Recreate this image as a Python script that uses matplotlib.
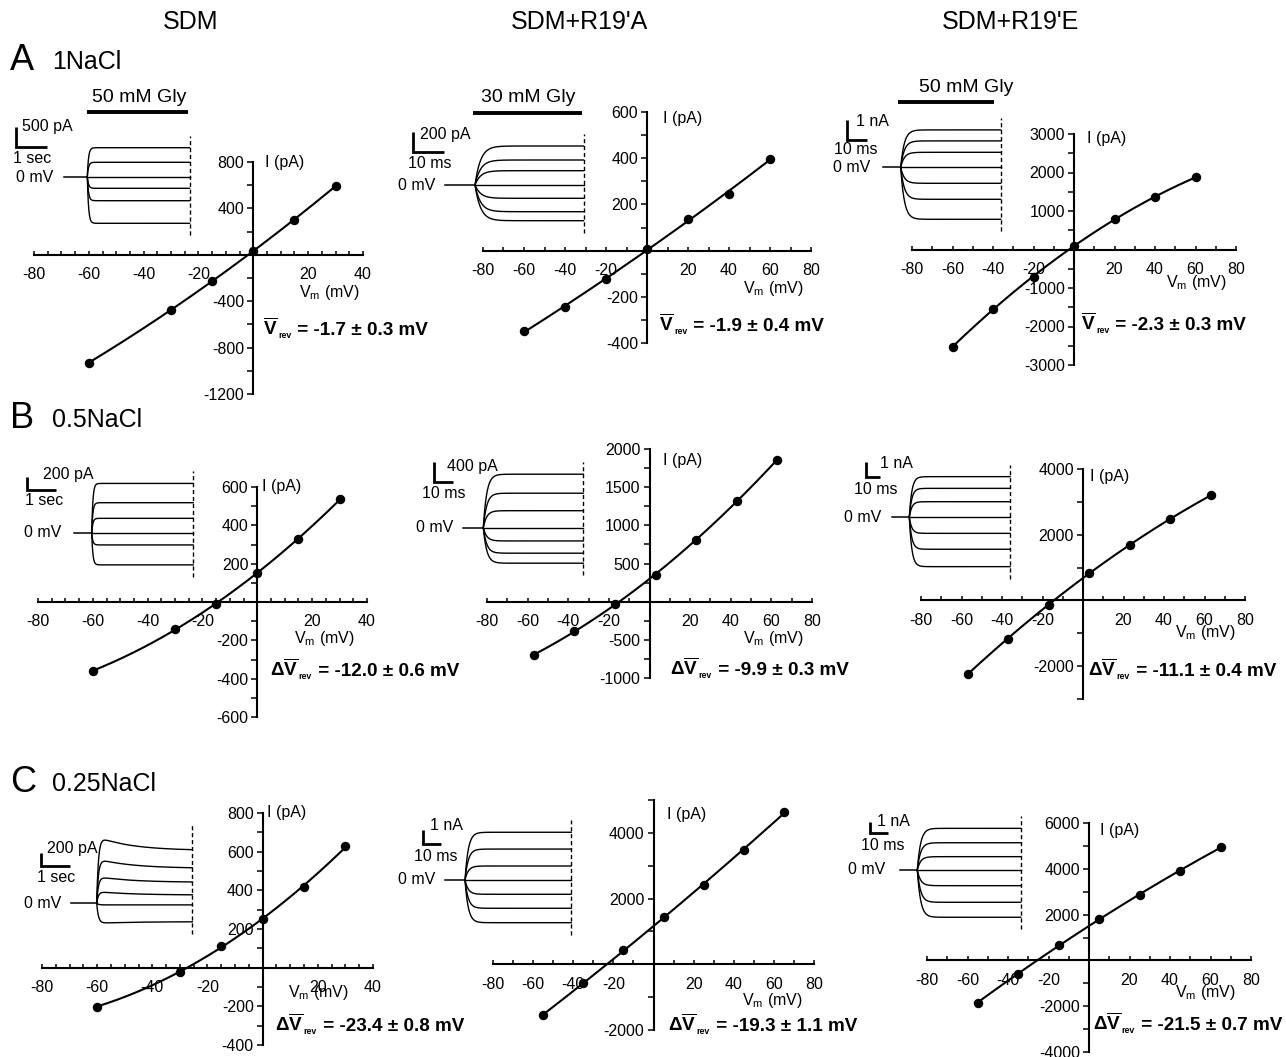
import numpy as np
import matplotlib.pyplot as plt
from matplotlib.ticker import FixedLocator, MultipleLocator, FuncFormatter

plt.rcParams['font.family'] = ['Liberation Sans', 'DejaVu Sans']
plt.rcParams['mathtext.fontset'] = 'custom'
plt.rcParams['mathtext.rm'] = 'Liberation Sans'
plt.rcParams['mathtext.it'] = 'Liberation Sans:italic'
plt.rcParams['mathtext.bf'] = 'Liberation Sans:bold'

W, H, DPI = 1286, 1057, 100

# headings
columns = ["SDM", "SDM+R19'A", "SDM+R19'E"]
row_letters = ["A", "B", "C"]
row_salts = ["1NaCl", "0.5NaCl", "0.25NaCl"]
gly_labels = ["50 mM Gly", "30 mM Gly", "50 mM Gly"]

# I-V relations: membrane potential (mV) and current (pA)
v_a1 = [-60, -30, -15, 0, 15, 30]
i_a1 = [-930, -475, -225, 35, 300, 595]
v_a2 = [-60, -40, -20, 0, 20, 40, 60]
i_a2 = [-350, -245, -122, 5, 137, 247, 397]
v_a3 = [-60, -40, -20, 0, 20, 40, 60]
i_a3 = [-2525, -1550, -720, 100, 800, 1355, 1875]
v_b1 = [-60, -30, -15, 0, 15, 30]
i_b1 = [-360, -140, -8, 150, 330, 535]
v_b2 = [-57, -37, -17, 3, 23, 43, 63]
i_b2 = [-700, -385, -35, 350, 810, 1325, 1860]
v_b3 = [-57, -37, -17, 3, 23, 43, 63]
i_b3 = [-2240, -1165, -130, 830, 1690, 2475, 3195]
v_c1 = [-60, -30, -15, 0, 15, 30]
i_c1 = [-202, -20, 111, 253, 417, 628]
v_c2 = [-55, -35, -15, 5, 25, 45, 65]
i_c2 = [-1545, -575, 440, 1435, 2420, 3465, 4625]
v_c3 = [-55, -35, -15, 5, 25, 45, 65]
i_c3 = [-1840, -590, 660, 1810, 2870, 3900, 4950]

# labelled current ticks of each I-V plot
yt_a1 = [-1200, -800, -400, 400, 800]
yt_a2 = [-400, -200, 200, 400, 600]
yt_a3 = [-3000, -2000, -1000, 1000, 2000, 3000]
yt_b1 = [-600, -400, -200, 200, 400, 600]
yt_b2 = [-1000, -500, 500, 1000, 1500, 2000]
yt_b3 = [-2000, 2000, 4000]
yt_c1 = [-400, -200, 200, 400, 600, 800]
yt_c2 = [-2000, 2000, 4000]
yt_c3 = [-4000, -2000, 2000, 4000, 6000]

# reversal potentials (mean ± s.e.m., mV); rows B and C are shifts
rev_a1 = '-1.7 ± 0.3'
rev_a2 = '-1.9 ± 0.4'
rev_a3 = '-2.3 ± 0.3'
rev_b1 = '-12.0 ± 0.6'
rev_b2 = '-9.9 ± 0.3'
rev_b3 = '-11.1 ± 0.4'
rev_c1 = '-23.4 ± 0.8'
rev_c2 = '-19.3 ± 1.1'
rev_c3 = '-21.5 ± 0.7'

# glycine-evoked current traces (peak and end-of-trace level, in bar units)
tr_a1 = [725, 360, 0, -290, -600, -1165]
tr_a2 = [390, 250, 143, 0, -133, -267, -357]
tr_a3 = [1.87, 1.32, 0.75, 0, -0.80, -1.60, -2.60]
tr_b1 = [750, 460, 225, 0, -175, -475]
tr_b2 = [1070, 690, 340, 0, -265, -510, -710]
tr_b3 = [2.71, 1.93, 1.04, 0, -1.07, -2.13, -3.29]
tr_c1 = [1050, 700, 420, 185, -25, -315]
tr_c1_end = [830, 550, 330, 130, -25, -290]
tr_c2 = [3.41, 2.21, 1.00, 0, -1.02, -2.02, -3.05]
tr_c3 = [3.56, 2.33, 1.14, 0, -1.34, -2.76, -4.04]

# scale bars: (time, time unit, current, current unit)
bar_a1 = (1, 'sec', 500, 'pA')
bar_a2 = (10, 'ms', 200, 'pA')
bar_a3 = (10, 'ms', 1, 'nA')
bar_b1 = (1, 'sec', 200, 'pA')
bar_b2 = (10, 'ms', 400, 'pA')
bar_b3 = (10, 'ms', 1, 'nA')
bar_c1 = (1, 'sec', 200, 'pA')
bar_c2 = (10, 'ms', 1, 'nA')
bar_c3 = (10, 'ms', 1, 'nA')

fig = plt.figure(figsize=(W / DPI, H / DPI), dpi=DPI)
renderer = fig.canvas.get_renderer()

# pixel overlay for free text, scale bars and drug bars
ov = fig.add_axes([0, 0, 1, 1])
ov.set_xlim(0, W)
ov.set_ylim(H, 0)
ov.set_axis_off()

FS = 11.5
REV_FS = 13.6


def rev_label(x, y, value, delta):
    # V-bar with a tiny "rev" subscript, then the value
    head = (r'Δ$\overline{\mathbf{V}}$' if delta else r'$\overline{\mathbf{V}}$')
    base = y + 0.36 * REV_FS * DPI / 72
    t1 = ov.text(x, base, head, fontsize=REV_FS, fontweight='bold',
                 ha='left', va='baseline')
    x1 = t1.get_window_extent(renderer).x1
    t2 = ov.text(x1 + 0.5, base + 3, 'rev', fontsize=6.3, fontweight='bold',
                 ha='left', va='baseline')
    x2 = t2.get_window_extent(renderer).x1
    ov.text(x2 + 1, base, f' = {value} mV', fontsize=REV_FS, fontweight='bold',
            ha='left', va='baseline')


def iv_plot(v, cur, yt, box, xlim, ylim, ystep, xstep, ilab, vlab, rev_xy, rev,
            delta):
    l, r, t, b = box
    ax = fig.add_axes([l / W, 1 - b / H, (r - l) / W, (b - t) / H])
    ax.set_xlim(*xlim)
    ax.set_ylim(*ylim)
    ax.patch.set_visible(False)
    for s in ('top', 'right'):
        ax.spines[s].set_visible(False)
    for s in ('left', 'bottom'):
        ax.spines[s].set_position(('data', 0))
        ax.spines[s].set_linewidth(1.5)
    ax.xaxis.set_major_locator(FixedLocator(np.arange(xlim[0], xlim[1] + 1, 20)))
    ax.xaxis.set_minor_locator(MultipleLocator(xstep))
    ax.yaxis.set_major_locator(FixedLocator(yt))
    ax.yaxis.set_minor_locator(MultipleLocator(ystep))
    fmt = FuncFormatter(lambda val, pos: '' if val == 0 else f'{val:g}')
    ax.xaxis.set_major_formatter(fmt)
    ax.yaxis.set_major_formatter(fmt)
    ax.tick_params(axis='x', which='both', direction='in', length=3, width=1.1,
                   pad=9, labelsize=FS)
    ax.tick_params(axis='y', which='both', direction='out', length=4, width=1.1,
                   pad=2.5, labelsize=FS)

    coef = np.polyfit(v, cur, 2)
    vv = np.linspace(min(v), max(v), 200)
    ax.plot(vv, np.polyval(coef, vv), color='k', lw=1.5, clip_on=False)
    ax.plot(v, cur, 'o', color='k', ms=5.8, clip_on=False)

    ov.text(ilab[0], ilab[1], 'I (pA)', fontsize=FS, ha='left', va='center')
    ov.text(vlab[0], vlab[1], r'V$_{\mathrm{m}}$ (mV)', fontsize=FS,
            ha='center', va='center')
    rev_label(rev_xy[0], rev_xy[1], rev, delta)


def traces(levels, ends, bar, origin, corner, bar_px, pre, dur, tau, tau_d,
           amp_xy, time_xy, zero_xy):
    x0, y0 = origin
    sx = bar_px[0] / bar[0]
    sy = bar_px[1] / bar[2]
    ax = fig.add_axes([0, 0, 1, 1])
    ax.set_axis_off()
    ax.set_xlim(-x0 / sx, (W - x0) / sx)
    ax.set_ylim((y0 - H) / sy, y0 / sy)

    t = np.linspace(0, dur, 400)
    ax.plot([-pre, 0], [0, 0], color='k', lw=1.1)
    for lv, en in zip(levels, ends):
        frac = en / lv if lv else 1.0
        shape = (1 - np.exp(-t / tau)) * (frac + (1 - frac) * np.exp(-t / tau_d))
        ax.plot(t, lv * shape, color='k', lw=1.0)
    margin = 12 / sy
    ax.plot([dur, dur], [min(ends) - margin, max(levels) + margin],
            color='k', lw=1.0, ls=(0, (3, 2)))

    cx, cy = corner
    ov.plot([cx, cx, cx + bar_px[0]], [cy - bar_px[1], cy, cy], color='k',
            lw=2.0, solid_joinstyle='miter', solid_capstyle='butt')
    ov.text(amp_xy[0], amp_xy[1], f'{bar[2]} {bar[3]}', fontsize=FS,
            ha='left', va='center')
    ov.text(time_xy[0], time_xy[1], f'{bar[0]} {bar[1]}', fontsize=FS,
            ha='center', va='center')
    ov.text(zero_xy[0], zero_xy[1], '0 mV', fontsize=FS, ha='right', va='center')


# row A
iv_plot(v_a1, i_a1, yt_a1, (34, 363, 162, 394), (-80, 40), (-1200, 800), 200, 5,
        (265, 162), (329, 292), (263, 328), rev_a1, False)
traces(tr_a1, tr_a1, bar_a1, (87.3, 176.7), (15.5, 146.7), (31, 20), 0.74, 3.3,
       0.04, 1.0, (22, 127), (31.7, 158.3), (53.3, 178))
iv_plot(v_a2, i_a2, yt_a2, (483, 811, 112, 343), (-80, 80), (-400, 600), 100, 10,
        (663, 118), (773, 288), (659, 324), rev_a2, False)
traces(tr_a2, tr_a2, bar_a2, (475, 185), (412.7, 151.7), (31, 20), 9.7, 35,
       1.8, 1.0, (420, 135), (430, 164), (435, 186))
iv_plot(v_a3, i_a3, yt_a3, (912, 1236, 134, 365), (-80, 80), (-3000, 3000), 500, 10,
        (1087, 138), (1196, 282), (1081, 323), rev_a3, False)
traces(tr_a3, tr_a3, bar_a3, (900.7, 167.3), (846.7, 140), (20, 20), 8.8, 50,
       1.8, 1.0, (856, 122), (856, 149), (870, 168))

# row B
iv_plot(v_b1, i_b1, yt_b1, (38, 367, 487, 717), (-80, 40), (-600, 600), 100, 5,
        (262, 487), (324, 638), (270, 669), rev_b1, True)
traces(tr_b1, tr_b1, bar_b1, (91.7, 533.3), (27.3, 490), (29, 13.3), 0.61, 3.5,
       0.04, 1.0, (43.3, 475), (44, 500.7), (61.7, 532.7))
iv_plot(v_b2, i_b2, yt_b2, (487, 812, 449, 678), (-80, 80), (-1000, 2000), 250, 10,
        (663, 460), (773, 638), (670, 668), rev_b2, True)
traces(tr_b2, tr_b2, bar_b2, (483.3, 527.7), (434.3, 481.7), (19, 20), 10.5, 52.6,
       1.8, 1.0, (446.7, 466), (444, 493.3), (453.3, 527.7))
iv_plot(v_b3, i_b3, yt_b3, (921, 1245, 469, 699), (-80, 80), (-3000, 4000), 1000, 10,
        (1090, 477), (1205, 632), (1088, 669), rev_b3, True)
traces(tr_b3, tr_b3, bar_b3, (909.3, 517.3), (866, 476.7), (14, 15), 12.6, 72,
       1.8, 1.0, (880, 463), (876, 489), (881.7, 517.3))

# row C
iv_plot(v_c1, i_c1, yt_c1, (42, 373, 813, 1045), (-80, 40), (-400, 800), 100, 5,
        (267, 813), (318, 993), (275, 1024), rev_c1, True)
traces(tr_c1, tr_c1_end, bar_c1, (96.7, 903.3), (40.7, 866), (29, 12.7), 0.9, 3.3,
       0.06, 1.2, (46.7, 848), (55.8, 877.3), (61.7, 903.3))
iv_plot(v_c2, i_c2, yt_c2, (493, 814, 800, 1030), (-80, 80), (-2000, 5000), 1000, 10,
        (667, 815), (772, 1000), (668, 1024), rev_c2, True)
traces(tr_c2, tr_c2, bar_c2, (465, 880), (423.3, 844), (18, 14), 11, 59,
       1.8, 1.0, (430, 826), (435.8, 856.7), (435, 880))
iv_plot(v_c3, i_c3, yt_c3, (927, 1251, 823, 1052), (-80, 80), (-4000, 6000), 1000, 10,
        (1100, 830), (1205, 993), (1093, 1023), rev_c3, True)
traces(tr_c3, tr_c3, bar_c3, (917.3, 870), (870, 833.3), (18.3, 11.7), 9.5, 56.5,
       1.8, 1.0, (876.7, 822), (882.5, 845), (885, 870))

# column and row headings
for x, name in zip([191, 579, 1010], columns):
    ov.text(x, 22, name, fontsize=18, ha='center', va='center')
for y, letter, salt in zip([60, 418, 782], row_letters, row_salts):
    ov.text(10, y, letter, fontsize=26, ha='left', va='center')
    ov.text(52, y + 2, salt, fontsize=18, ha='left', va='center')

# glycine application bars
for (x1, x2, yb, xt, yt), lab in zip([(86.7, 188.3, 111.7, 139, 97),
                                      (473, 581.7, 112.7, 528, 97),
                                      (898, 994, 101.7, 966, 87)], gly_labels):
    ov.plot([x1, x2], [yb, yb], color='k', lw=2.8, solid_capstyle='butt')
    ov.text(xt, yt, lab, fontsize=14, ha='center', va='center')

fig.savefig('out.png', dpi=DPI)
